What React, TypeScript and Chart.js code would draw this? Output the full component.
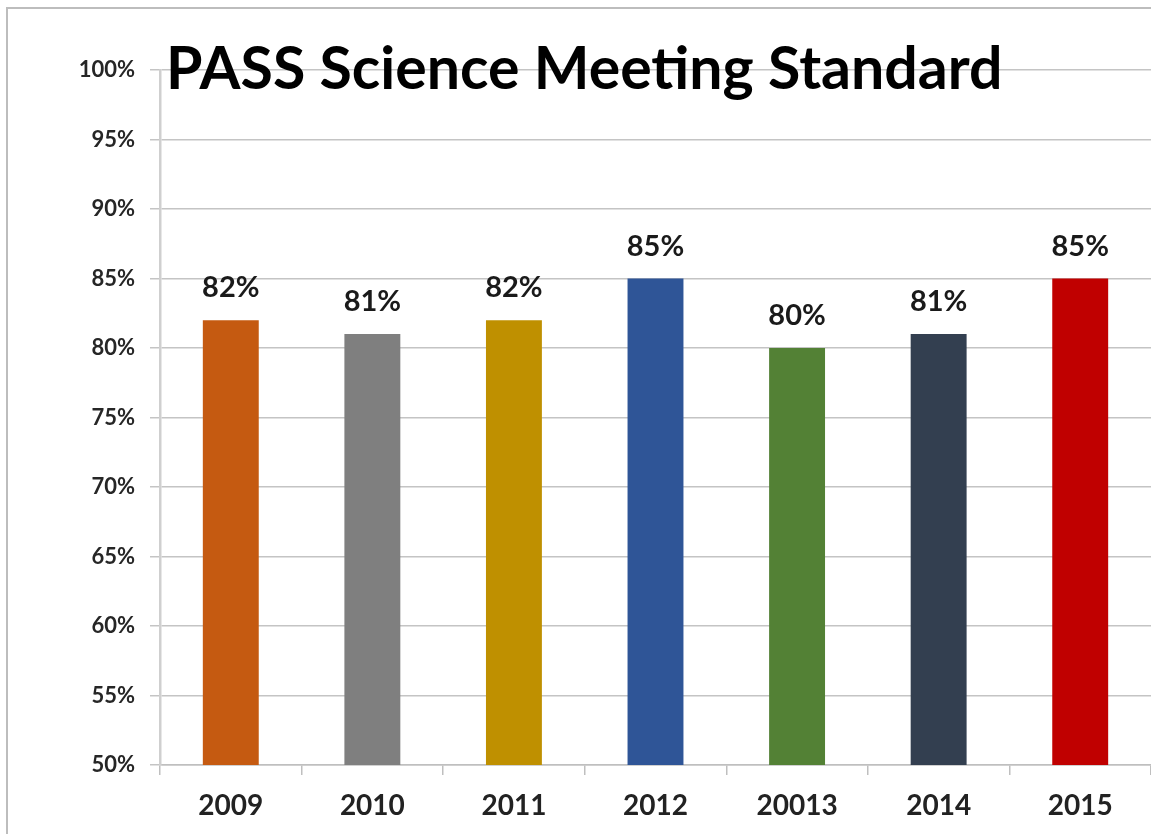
import React, { useEffect, useRef } from "react";
import { Chart, registerables } from "chart.js";

Chart.register(...registerables);

const categories = ["2009", "2010", "2011", "2012", "20013", "2014", "2015"];
const values = [82, 81, 82, 85, 80, 81, 85];
const barColors = ["#C55A11", "#7F7F7F", "#BF9000", "#2F5597", "#538135", "#333F50", "#C00000"];
const yMin = 50;
const yMax = 100;
const yStep = 5;
const titleText = "PASS Science Meeting Standard";

const FONT = "Lato, 'Open Sans', sans-serif";

const valueLabelPlugin = {
  id: "valueLabels",
  afterDatasetsDraw(chart: any) {
    const ctx = chart.ctx;
    const meta = chart.getDatasetMeta(0);
    ctx.save();
    ctx.font = `bold 29px ${FONT}`;
    ctx.fillStyle = "#1a1a1a";
    ctx.textAlign = "center";
    ctx.textBaseline = "alphabetic";
    meta.data.forEach((bar: any, i: number) => {
      ctx.fillText(values[i] + "%", bar.x, bar.y - 23);
    });
    ctx.restore();
  },
};

const titlePlugin = {
  id: "bigTitle",
  afterDraw(chart: any) {
    const ctx = chart.ctx;
    const area = chart.chartArea;
    ctx.save();
    ctx.font = `bold 59px ${FONT}`;
    ctx.fillStyle = "#000000";
    ctx.textAlign = "left";
    ctx.textBaseline = "alphabetic";
    ctx.fillText(titleText, area.left + 6, area.top + 19);
    ctx.restore();
  },
};

export default function App() {
  const ref = useRef<HTMLCanvasElement | null>(null);

  useEffect(() => {
    if (!ref.current) return;
    const chart = new Chart(ref.current, {
      type: "bar",
      data: {
        labels: categories,
        datasets: [
          {
            data: values,
            backgroundColor: barColors,
            borderWidth: 0,
            categoryPercentage: 1,
            barPercentage: 0.395,
          },
        ],
      },
      options: {
        animation: false,
        responsive: false,
        maintainAspectRatio: false,
        layout: { padding: { top: 70, left: 0, right: 0, bottom: 0 } },
        plugins: {
          legend: { display: false },
          tooltip: { enabled: false },
          title: { display: false },
        },
        scales: {
          x: {
            grid: {
              display: true,
              drawOnChartArea: false,
              drawTicks: true,
              tickLength: 10,
              color: "#bfbfbf",
              lineWidth: 1.5,
              offset: true,
            },
            border: { display: true, color: "#bfbfbf", width: 1.5 },
            ticks: {
              color: "#222222",
              font: { family: FONT, size: 28, weight: "bold" },
              padding: 14,
            },
            afterFit(scale: any) {
              scale.height = 69;
            },
          },
          y: {
            min: yMin,
            max: yMax,
            grid: {
              color: "#c4c4c4",
              lineWidth: 1.5,
              drawTicks: true,
              tickLength: 10,
            },
            border: { display: true, color: "#cfcfcf", width: 2.5 },
            ticks: {
              stepSize: yStep,
              color: "#262626",
              font: { family: FONT, size: 22, weight: "bold" },
              padding: 15,
              callback: (v: any) => v + "%",
            },
            afterFit(scale: any) {
              scale.width = 160;
            },
          },
        },
      },
      plugins: [valueLabelPlugin, titlePlugin],
    });
    return () => chart.destroy();
  }, []);

  return (
    <div
      style={{
        position: "fixed",
        left: 0,
        top: 0,
        width: 1151,
        height: 834,
        background: "#ffffff",
        overflow: "hidden",
      }}
    >
      <canvas ref={ref} width={1151} height={834} style={{ display: "block" }} />
      <div
        style={{
          position: "absolute",
          left: 6,
          top: 7,
          width: 1200,
          height: 900,
          borderLeft: "2px solid #bdbdbd",
          borderTop: "2px solid #bdbdbd",
          pointerEvents: "none",
        }}
      />
    </div>
  );
}
